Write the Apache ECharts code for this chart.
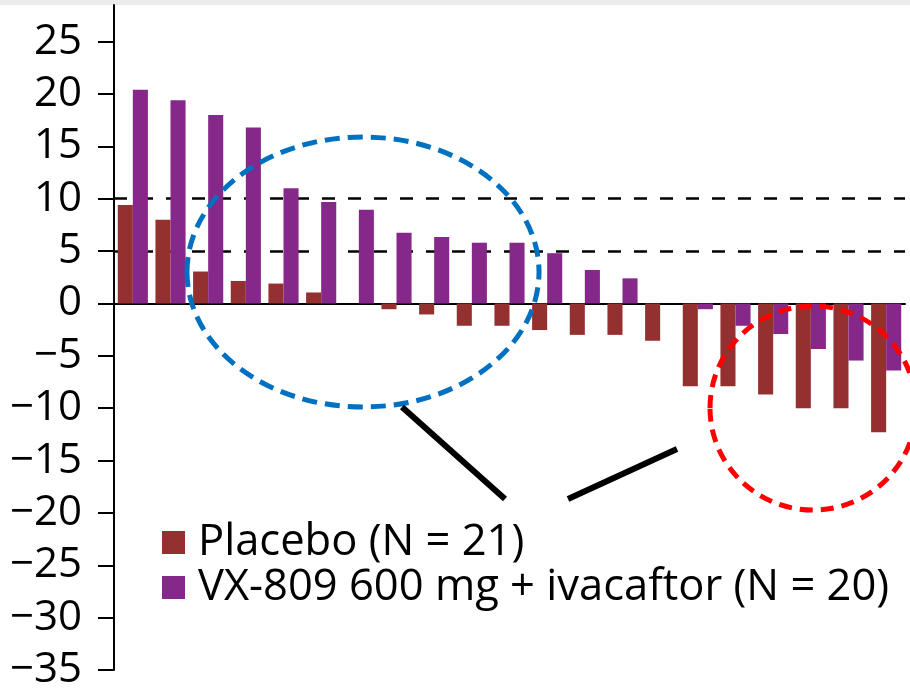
<!DOCTYPE html>
<html>
<head>
<meta charset="utf-8">
<script src="https://cdn.jsdelivr.net/npm/echarts@6/dist/echarts.min.js"></script>
<style>
html,body{margin:0;padding:0;background:#fff;}
#chart{width:910px;height:691px;}
</style>
</head>
<body>
<div id="chart"></div>
<script>
// Patients (waterfall order)
var categories = ['1','2','3','4','5','6','7','8','9','10','11','12','13','14','15','16','17','18','19','20','21'];
// Placebo (N = 21)
var placebo = [9.4, 8.0, 3.05, 2.15, 1.9, 1.05, 0, -0.55, -1.05, -2.13, -2.13, -2.54, -3.0, -3.0, -3.56, -7.9, -7.9, -8.7, -10.0, -10.0, -12.3];
// VX-809 600 mg + ivacaftor (N = 20)
var vx = [20.4, 19.4, 18.0, 16.8, 11.0, 9.7, 8.95, 6.75, 6.35, 5.8, 5.8, 4.8, 3.2, 2.4, null, -0.55, -2.13, -2.92, -4.35, -5.45, -6.4];
var yTicks = [-35, -30, -25, -20, -15, -10, -5, 0, 5, 10, 15, 20, 25];
var refLines = [10, 5];
var seriesNames = ['Placebo (N = 21)', 'VX-809 600 mg + ivacaftor (N = 20)'];

var chart = echarts.init(document.getElementById('chart'));
var FONT = '"Open Sans", sans-serif';
chart.setOption({
  animation: false,
  backgroundColor: '#ffffff',
  grid: {left: 114, right: 5, top: 5, bottom: 19.2, containLabel: false},
  legend: {
    orient: 'vertical',
    left: 157,
    top: 515,
    itemWidth: 23,
    itemHeight: 23,
    itemGap: 0,
    icon: 'rect',
    selectedMode: false,
    textStyle: {fontFamily: FONT, fontSize: 43.5, color: '#000', lineHeight: 45, padding: [0, 0, 0, 8]},
    data: seriesNames
  },
  xAxis: {
    type: 'category',
    data: categories,
    axisLine: {onZero: true, lineStyle: {color: '#000', width: 2}},
    axisTick: {show: false},
    axisLabel: {show: false},
    splitLine: {show: false}
  },
  yAxis: {
    type: 'value',
    min: -35,
    max: 28.5,
    interval: 5,
    axisLine: {show: true, lineStyle: {color: '#000', width: 2}},
    axisTick: {show: true, length: 16, lineStyle: {color: '#000', width: 2}, customValues: yTicks},
    axisLabel: {
      customValues: yTicks,
      margin: 32,
      fontFamily: FONT,
      fontSize: 42,
      color: '#000',
      formatter: function (v) { return String(v).replace('-', '\u2212'); }
    },
    splitLine: {show: false}
  },
  series: [
    {
      name: seriesNames[0],
      type: 'bar',
      data: placebo,
      barGap: '0%',
      barCategoryGap: '20%',
      itemStyle: {color: '#943130'},
      markLine: {
        z: 1,
        silent: true,
        symbol: 'none',
        label: {show: false},
        lineStyle: {color: '#000', width: 2.5, type: [13, 13]},
        data: refLines.map(function (v) { return {yAxis: v}; })
      }
    },
    {
      name: seriesNames[1],
      type: 'bar',
      data: vx,
      barGap: '0%',
      barCategoryGap: '20%',
      itemStyle: {color: '#852889'}
    }
  ],
  graphic: [
    {type: 'rect', shape: {x: 0, y: 0, width: 910, height: 5}, style: {fill: '#ececec'}, z: 0},
    {type: 'ellipse', shape: {cx: 363, cy: 272, rx: 176, ry: 135}, style: {fill: 'none', stroke: '#0070C0', lineWidth: 5, lineDash: [15, 8]}, z: 50},
    {type: 'ellipse', shape: {cx: 813, cy: 408, rx: 103, ry: 102}, style: {fill: 'none', stroke: '#FF0000', lineWidth: 5, lineDash: [13, 8]}, z: 50},
    {type: 'line', shape: {x1: 402, y1: 407, x2: 505, y2: 499}, style: {stroke: '#000', lineWidth: 6}, z: 50},
    {type: 'line', shape: {x1: 568, y1: 499, x2: 677, y2: 449}, style: {stroke: '#000', lineWidth: 6}, z: 50}
  ]
});
</script>
</body>
</html>
